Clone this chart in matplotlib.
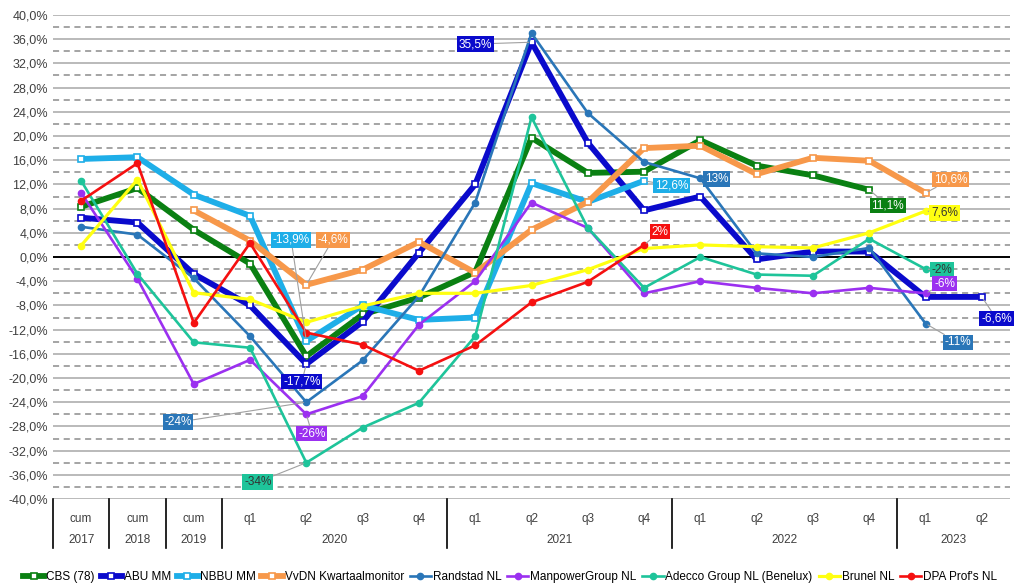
import numpy as np
import matplotlib.pyplot as plt

nan = np.nan

periods = ['cum', 'cum', 'cum', 'q1', 'q2', 'q3', 'q4', 'q1', 'q2', 'q3', 'q4',
           'q1', 'q2', 'q3', 'q4', 'q1', 'q2']
years = ['2017', '2018', '2019', '2020', '2021', '2022', '2023']
year_spans = [1, 1, 1, 4, 4, 4, 2]

cbs = [8.3, 11.4, 4.5, -1.1, -16.4, -9.5, -6.7, -2.5, 19.7, 13.9, 14.1, 19.3, 15.1, 13.5, 11.1, nan, nan]
abu = [6.5, 5.7, -2.8, -8.0, -17.7, -10.7, 0.7, 12.0, 35.5, 18.9, 7.7, 10.0, -0.4, 0.9, 0.9, -6.6, -6.6]
nbbu = [16.2, 16.5, 10.3, 6.8, -13.9, -8.0, -10.4, -10.0, 12.2, 9.1, 12.6, nan, nan, nan, nan, nan, nan]
vvdn = [nan, nan, 7.7, 2.7, -4.6, -2.1, 2.5, -2.6, 4.5, 9.1, 18.0, 18.4, 13.7, 16.4, 15.9, 10.6, nan]
randstad = [5.0, 3.7, -3.5, -13.1, -24.0, -17.1, -6.5, 9.0, 37.0, 23.8, 15.7, 13.0, 0.6, 0.0, 1.5, -11.0, nan]
manpower = [10.6, -3.6, -21.0, -17.0, -26.0, -23.0, -11.2, -4.0, 9.0, 4.8, -6.0, -4.0, -5.1, -6.0, -5.1, -6.0, nan]
adecco = [12.6, -2.8, -14.1, -15.0, -34.0, -28.2, -24.1, -13.1, 23.1, 4.8, -5.1, 0.0, -2.9, -3.1, 3.0, -2.0, nan]
brunel = [1.9, 12.8, -5.9, -7.0, -10.8, -8.1, -6.0, -6.0, -4.7, -2.1, 1.4, 2.0, 1.7, 1.5, 4.0, 7.6, nan]
dpa = [9.3, 15.5, -10.9, 2.3, -12.5, -14.5, -18.8, -14.6, -7.5, -4.1, 2.0, nan, nan, nan, nan, nan, nan]

series = [
    ('CBS (78)', cbs, '#0A8012', 's', 4.2),
    ('ABU MM', abu, '#0A0ACC', 's', 4.2),
    ('NBBU MM', nbbu, '#1EAEE8', 's', 4.2),
    ('VvDN Kwartaalmonitor', vvdn, '#F7984A', 's', 4.2),
    ('Randstad NL', randstad, '#2A76B8', 'o', 1.9),
    ('ManpowerGroup NL', manpower, '#9B30F0', 'o', 1.9),
    ('Adecco Group NL (Benelux)', adecco, '#1EC49A', 'o', 1.9),
    ('Brunel NL', brunel, '#FFFF10', 'o', 2.3),
    ("DPA Prof's NL", dpa, '#F51010', 'o', 1.9),
]

# (series index, point index, text, label x, label y, text colour)
labels = [
    (1, 8, '35,5%', 7.0, 35.2, 'white'),
    (2, 4, '-13,9%', 3.73, 2.85, 'white'),
    (3, 4, '-4,6%', 4.47, 2.85, 'white'),
    (1, 4, '-17,7%', 3.92, -20.6, 'white'),
    (4, 4, '-24%', 1.72, -27.3, 'white'),
    (5, 4, '-26%', 4.1, -29.2, 'white'),
    (6, 4, '-34%', 3.14, -37.2, '#333333'),
    (2, 10, '12,6%', 10.49, 11.8, 'white'),
    (4, 11, '13%', 11.29, 12.9, 'white'),
    (8, 10, '2%', 10.28, 4.2, 'white'),
    (3, 15, '10,6%', 15.45, 12.8, 'white'),
    (0, 14, '11,1%', 14.33, 8.5, 'white'),
    (7, 15, '7,6%', 15.34, 7.3, '#333333'),
    (6, 15, '-2%', 15.29, -2.1, '#333333'),
    (5, 15, '-6%', 15.34, -4.4, 'white'),
    (1, 16, '-6,6%', 16.26, -10.2, 'white'),
    (4, 15, '-11%', 15.57, -14.1, 'white'),
]

plt.rcParams['font.family'] = ['Liberation Sans Narrow', 'Liberation Sans', 'DejaVu Sans']

fig = plt.figure(figsize=(10.14, 5.86), dpi=100)
ax = fig.add_axes([53 / 1014, 87 / 586, 957 / 1014, 484 / 586])

x = np.arange(len(periods))
ax.set_xlim(-0.5, len(periods) - 0.5)
ax.set_ylim(-40, 40)

for v in range(-40, 41, 4):
    ax.axhline(v, color='#B4B4B4', lw=1.3, zorder=0)
for v in range(-38, 40, 4):
    ax.axhline(v, color='#8C8C8C', lw=1.1, ls=(0, (4, 3)), zorder=0)
ax.axhline(0, color='black', lw=1.4, zorder=1)

for name, vals, col, mk, lw in series:
    if mk == 's':
        ax.plot(x, vals, color=col, lw=lw, marker='s', ms=5, mfc='white', mec=col, mew=1.2,
                label=name, zorder=3)
    else:
        ax.plot(x, vals, color=col, lw=lw, marker='o', ms=4.5, mfc=col, mec=col,
                label=name, zorder=3)

for si, pi, txt, lx, ly, tc in labels:
    col = series[si][2]
    py = series[si][1][pi]
    ax.annotate(txt, xy=(pi, py), xytext=(lx, ly), ha='center', va='center',
                fontsize=8.5, color=tc,
                bbox=dict(boxstyle='square,pad=0.15', fc=col, ec='none'),
                arrowprops=dict(arrowstyle='-', color='#A0A0A0', lw=0.8,
                                shrinkA=0, shrinkB=2), zorder=5)

ax.set_yticks(range(-40, 41, 4))
ax.set_yticklabels([f'{v:.1f}'.replace('.', ',') + '%' for v in range(-40, 41, 4)],
                   fontsize=9, color='#404040')
ax.set_xticks(x)
ax.set_xticklabels(periods, fontsize=8.5, color='#404040')
ax.tick_params(axis='both', length=0)
ax.tick_params(axis='x', pad=10)
for s in ax.spines.values():
    s.set_visible(False)

tr = ax.get_xaxis_transform()
edges = np.concatenate([[0], np.cumsum(year_spans)]) - 0.5
for e in edges[:-1]:
    ax.plot([e, e], [0, -0.101], transform=tr, color='black', lw=1.2, clip_on=False)
for i, yr in enumerate(years):
    ax.text((edges[i] + edges[i + 1]) / 2, -0.085, yr, transform=tr, ha='center', va='center',
            fontsize=8.5, color='#404040')

fig.legend(loc='center', bbox_to_anchor=(0.503, 9 / 586), ncol=9, frameon=False,
           fontsize=8.5, handlelength=1.8, handletextpad=0.15, columnspacing=0.5,
           borderpad=0.1)

fig.savefig('out.png', dpi=100)
